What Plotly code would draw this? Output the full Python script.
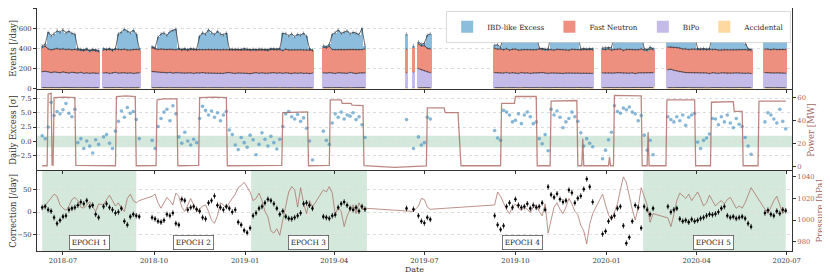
import pandas as pd
import plotly.graph_objects as go
from plotly.subplots import make_subplots

# ---------------- data ----------------
segment_starts = ["2018-06-10", "2018-08-11", "2018-09-29", "2019-03-21", "2019-06-13",
                  "2019-06-20", "2019-06-25", "2019-09-10", "2019-12-28", "2020-03-03", "2020-06-09"]
segment_counts = [20, 13, 55, 15, 1, 1, 5, 34, 18, 29, 8]

accidental = [
    11,10,12,10,9,11,10,12,10,9,11,10,10,12,9,10,11,10,9,11,
    10,11,9,10,12,10,11,9,10,11,10,12,10,
    10,12,9,11,10,10,12,9,11,10, 10,11,9,12,10,10,11,10,9,12, 10,11,10,9,10,12,11,10,9,10,
    11,12,10,9,10,11,10,12,9,10, 11,10,10,12,9,11,10,10,12,9, 11,10,10,11,9,
    10,11,9,12,10,10,11,9,10,12,11,10,9,10,11,
    10,
    11,
    10,12,11,10,9,
    10,11,9,10,12,10,11,10,9,12, 10,11,10,9,10,12,11,10,9,10, 11,10,12,10,9,11,10,10,12,9, 10,11,10,9,
    10,12,9,11,10,10,12,11,9,10,11,10,12,9,10,11,10,12,
    10,11,12,10,9,11,10,12,10,9, 11,10,10,12,9,11,10,10,11,12, 9,10,11,10,12,9,10,11,10,
    10,11,9,12,10,11,10,9,
]
bipo = [
    158,162,155,150,157,152,148,154,150,146,152,149,145,150,143,147,141,146,144,140,
    145,148,142,146,150,144,147,149,143,146,141,145,148,
    160,156,152,149,153,147,150,145,148,151, 146,143,149,145,141,147,144,150,146,142,
    148,145,143,147,141,146,149,144,142,146, 143,147,145,140,144,148,142,146,143,141,
    145,149,143,146,142,147,144,140,145,143, 146,141,144,139,145,
    147,143,150,145,141,148,144,146,142,149,145,140,147,143,146,
    148,
    152,
    190,175,165,158,150,
    150,146,148,144,149,143,147,145,142,148, 144,146,141,147,143,145,149,144,142,146,
    143,147,145,141,146,144,148,142,145,143, 147,144,146,142,
    146,143,148,142,145,149,144,141,147,143,146,140,145,148,142,146,143,147,
    178,182,170,165,158,152,150,147,149,145, 146,143,148,144,141,147,145,142,146,144,
    140,145,143,147,141,146,142,144,140,
    150,146,148,143,147,145,149,144,
]
fast_neutron = [
    241,248,228,225,226,235,232,229,228,237,222,231,230,220,226,231,220,226,223,219,
    232,228,238,225,230,236,229,234,231,227,238,233,230,
    236,230,228,233,226,231,229,235,227,232, 229,234,226,231,237,228,233,225,230,236,
    229,232,235,227,238,230,226,233,236,228, 231,227,233,236,229,225,234,230,232,228,
    235,229,233,231,227,234,230,236,228,232, 229,233,231,235,228,
    255,250,262,231,236,229,234,230,237,228,233,236,230,235,240,
    235,
    250,
    245,238,250,232,236,
    240,235,238,232,236,229,233,238,231,227, 234,230,236,228,233,237,231,229,235,232,
    228,234,230,236,231,227,233,235,229,234, 232,236,230,238,
    236,232,240,229,234,231,238,227,233,236,230,235,229,237,231,226,239,233,
    225,220,228,232,236,230,234,229,233,238, 231,236,229,233,240,227,235,231,228,234,
    237,230,233,228,235,231,236,229,234,
    232,236,229,238,231,234,230,236,
]
ibd_excess = [
    15,20,165,140,153,177,170,190,167,178,165,150,10,8,7,7,8,8,9,8,
    10,4,8,3,6,155,173,198,186,171,191,150,9,
    8,5,120,150,165,140,175,190,205,6, 3,9,2,10,5,4,130,170,155,195,
    170,150,180,160,145,165,6,3,2,7, 4,10,5,1,8,3,6,2,5,9,
    3,6,4,7,170,155,140,160,130,155, 145,165,135,12,0,
    15,12,18,150,170,195,160,175,185,155,170,165,150,210,30,
    150,
    15,
    20,15,25,130,150,
    30,45,15,140,155,125,190,170,150,165, 180,160,175,150,170,8,3,10,5,155,
    140,170,130,160,150,175,145,165,150,6, 10,2,12,5,
    12,20,8,25,150,185,170,200,165,190,175,155,180,160,15,5,20,3,
    187,107,100,128,142,107,131,152,123,138, 8,4,12,2,6,155,170,145,175,160,
    140,165,180,155,150,135,60,10,3,
    153,167,144,182,162,175,151,166,
]
daily_excess_sigma = [
    1.0,0.5,2.5,6.8,4.5,5.2,4.8,5.5,6.6,4.9,4.3,5.6,-0.2,0.5,-1.2,0.1,-0.8,-2.0,0.3,-0.5,
    0.8,1.2,-0.3,-1.2,1.8,3.5,5.3,4.2,5.9,4.9,5.2,3.8,0.5,
    0.2,-1.2,2.6,4.0,5.1,5.6,3.6,6.2,4.8,0.8, -0.3,1.6,0.1,-0.6,0.4,-0.2,4.0,6.1,5.4,4.6,
    5.3,4.2,5.0,3.6,4.6,5.2,2.0,1.2,-0.6,-1.4, 0.7,-0.2,-1.0,1.1,0.3,-2.3,-0.5,1.5,0.4,-0.8,
    0.9,-0.2,-1.3,0.4,2.6,4.8,5.2,4.3,3.9,4.7, 3.5,4.1,2.3,0.1,-3.2,
    1.8,0.2,-0.5,3.2,4.8,4.2,5.1,3.9,4.6,4.4,5.0,3.8,4.3,2.9,0.7,
    3.8,
    -1.2,
    0.8,-0.6,-0.2,4.2,3.9,
    1.9,0.6,0.2,5.4,5.1,4.6,3.4,3.7,4.8,3.1, 4.6,5.1,4.3,3.1,3.4,0.5,-0.4,1.2,-1.6,5.6,
    4.6,5.3,4.2,2.4,3.4,4.0,5.1,4.3,3.5,1.5, -0.8,0.5,-0.3,-0.9,
    -3.0,-1.5,0.3,1.6,6.2,5.2,4.9,5.8,5.5,6.0,5.1,4.8,3.6,4.5,1.1,-1.5,0.2,-2.3,
    4.3,3.8,3.4,4.3,3.6,4.6,2.8,4.2,4.6,4.9, -0.1,-1.2,0.2,0.6,1.3,4.0,3.9,2.9,4.3,3.4,
    4.6,3.2,2.4,4.0,3.0,2.6,0.7,-0.8,-2.2,
    3.4,5.0,4.6,3.9,3.2,5.6,3.5,2.2,
]
correction = [
    10,12,5,2,-12,-25,-18,-10,-8,5,8,10,15,22,18,25,12,15,-5,-12,
    12,18,10,5,-2,0,8,-20,-28,-10,-5,-8,-10,
    -12,-15,-20,-22,-18,-5,-8,-2,-25,-28, 28,25,5,10,12,6,2,-12,-15,20,
    25,35,15,10,5,12,8,0,5,-22, -28,-40,-45,-35,-8,-2,8,12,20,28,
    25,18,8,-5,2,-10,-14,-15,-12,-8, -2,18,20,15,8,
    -10,-12,-14,-8,-6,10,18,22,15,8,5,10,2,12,6,
    8,
    6,
    -8,-20,-24,-12,-16,
    -8,-28,-38,-30,12,20,10,28,15,10, 12,18,8,15,10,12,20,5,55,38,
    32,40,28,22,25,48,42,20,30,35, 50,72,55,22,
    -48,-42,-20,-12,-8,8,12,-30,-68,-55,-20,15,10,-35,12,5,-5,8,
    12,0,5,8,-15,-20,-18,-22,-16,-20, -18,-14,-12,-8,-5,-6,-4,0,8,12,
    -8,-12,-10,-14,-12,-10,-14,-25,-32,
    -2,4,-5,-8,2,-3,5,3,
]
pressure = [
    1012,1013,1017,1020,1024,1022,1014,1011,1009,1013,1019,1021,1018,1012,1011,1014,1017,1012,1008,1015,
    1014,1019,1023,1018,1013,1016,1011,1008,1020,1024,1018,1016,1018,
    1022,1024,1016,1011,1016,1021,1018,1014,1025,1022, 1012,1008,1014,1020,1014,1008,1010,1013,1014,1008,
    1000,997,1004,1016,1014,1011,1016,1020,1024,1030, 1032,1035,1030,1026,1018,1020,1025,1018,1008,1003,
    990,988,992,986,1000,1012,1026,1031,1028,1012, 1030,1016,1006,1018,1012,
    1028,1026,1031,1025,1005,1012,1008,994,1004,1010,1014,1006,1016,1010,1011,
    1009,
    1008,
    1013,1020,1019,1012,1010,
    1014,1026,1022,1016,1010,1006,1012,1015,1011,1009, 1012,1010,1007,1012,1014,1008,1004,1015,988,1000,
    1012,1016,1010,1006,1012,1020,1015,1008,1005,995, 990,978,996,1006,
    1024,1014,1005,1000,1008,1015,1028,1040,1035,1022,1010,1000,1012,1030,1022,1014,998,1006,
    1002,994,1005,1018,1025,1022,1020,1024,1018,1022, 1026,1020,1013,1016,1023,1018,1013,1016,1018,1015,
    1019,1021,1016,1011,1013,1011,1016,1024,1030,
    1010,1006,1012,1018,1022,1014,1006,1010,
]

power_dates = [
    "2018-06-10","2018-06-15","2018-06-16","2018-06-19","2018-06-20","2018-06-21","2018-06-22","2018-07-02","2018-07-13","2018-07-14",
    "2018-08-23","2018-08-24","2018-09-03","2018-09-12","2018-09-13",
    "2018-10-03","2018-10-04","2018-10-10","2018-10-24","2018-10-25",
    "2018-11-15","2018-11-16","2018-11-30","2018-12-13","2018-12-14",
    "2019-02-07","2019-02-08","2019-03-05","2019-03-06",
    "2019-03-27","2019-03-28","2019-04-08","2019-04-09","2019-04-18","2019-04-19","2019-04-30","2019-05-01",
    "2019-06-01","2019-07-03","2019-07-04","2019-07-21","2019-07-22","2019-08-04","2019-08-07",
    "2019-09-16","2019-09-17","2019-09-30","2019-10-01","2019-10-22","2019-10-23",
    "2019-11-05","2019-11-06","2019-12-02","2019-12-03","2019-12-07","2019-12-08","2019-12-09",
    "2020-01-03","2020-01-04","2020-01-05","2020-01-08","2020-01-09","2020-02-05","2020-02-06",
    "2020-02-11","2020-02-12","2020-02-13","2020-03-01","2020-03-02","2020-03-30","2020-03-31",
    "2020-04-15","2020-04-16","2020-05-08","2020-05-09","2020-05-17","2020-05-18",
    "2020-06-02","2020-06-03","2020-06-30",
]
power_mw = [
    0.5,0.5,63,64,1,1,60,60.5,60,0.8,
    0.5,61,61.5,61,0.5,
    0.6,58,59,59,0.5,
    0.8,60,60.5,60,0.5,
    0.8,47,47.5,0.5,
    0.8,58,58,55,55,53.5,53,0.5,
    -1,0.3,51,51,47,47,0.5,
    0.5,55,55,61,61,0.5,
    0.5,57,57.5,0.5,0.5,24,0.5,
    0.5,8,0.5,0.5,62,61.5,0.5,
    0.5,30,0.5,0.5,58,58,0.5,
    0.5,56,56.5,48,48,0.5,
    0.5,57,57,
]

epoch_names = ["EPOCH 1", "EPOCH 2", "EPOCH 3", "EPOCH 4", "EPOCH 5"]
epoch_starts = ["2018-06-10", "2018-09-13", "2019-01-07", "2019-05-04", "2020-02-07"]
epoch_ends = ["2018-09-13", "2019-01-07", "2019-05-04", "2020-02-07", "2020-06-30"]
epoch_shaded = [True, False, True, False, True]
epoch_label_dates = ["2018-07-28", "2018-11-10", "2019-03-06", "2019-10-08", "2020-04-18"]

# ---------------- build ----------------
dates = []
for s, n in zip(segment_starts, segment_counts):
    dates.extend(list(pd.date_range(s, periods=n, freq="3D")))
N = len(dates)
for nm, arr in [("acc", accidental), ("bipo", bipo), ("fn", fast_neutron), ("exc", ibd_excess),
                ("sig", daily_excess_sigma), ("corr", correction), ("pres", pressure)]:
    assert len(arr) == N, (nm, len(arr), N)


def broken(values):
    xs, ys = [], []
    k = 0
    for n in segment_counts:
        xs += dates[k:k + n] + [None]
        ys += list(values[k:k + n]) + [None]
        k += n
    return xs, ys


c1 = list(accidental)
c2 = [a + b for a, b in zip(c1, bipo)]
c3 = [a + b for a, b in zip(c2, fast_neutron)]
c4 = [a + b for a, b in zip(c3, ibd_excess)]

FONT = "DejaVu Serif"
DARK = "#333333"
BROWN = "rgb(160,100,92)"
GREEN = "rgba(120,185,145,0.32)"
COL_EXC = "#8dbddd"
COL_FN = "#ee9080"
COL_BIPO = "#c4bbe8"
COL_ACC = "#fdd8a0"
BARW = 3 * 24 * 3600 * 1000

fig = make_subplots(rows=3, cols=1, shared_xaxes=True, vertical_spacing=0.004,
                    specs=[[{}], [{"secondary_y": True}], [{"secondary_y": True}]])

for vals, col, nm in [(accidental, COL_ACC, "Accidental"), (bipo, COL_BIPO, "BiPo"),
                      (fast_neutron, COL_FN, "Fast Neutron"), (ibd_excess, COL_EXC, "IBD-like Excess")]:
    fig.add_trace(go.Bar(x=dates, y=vals, width=BARW, name=nm, marker=dict(color=col, line=dict(width=0)),
                         showlegend=True), row=1, col=1)

for cum, err in [(c1, 3), (c2, 8), (c3, 12), (c4, 18)]:
    xs, ys = broken(cum)
    fig.add_trace(go.Scatter(x=xs, y=ys, mode="lines", line=dict(color="rgba(35,35,40,0.85)", width=0.8),
                             error_y=dict(type="constant", value=err, color="rgba(60,60,70,0.6)",
                                          thickness=0.7, width=0),
                             showlegend=False, hoverinfo="skip"), row=1, col=1)

# panel 2
fig.add_trace(go.Scatter(x=dates, y=daily_excess_sigma, mode="markers",
                         marker=dict(size=3.6, color="rgba(70,145,195,0.65)", line=dict(width=0)),
                         showlegend=False), row=2, col=1, secondary_y=False)
fig.add_trace(go.Scatter(x=power_dates, y=power_mw, mode="lines",
                         line=dict(color="rgba(165,95,85,0.75)", width=1.3),
                         showlegend=False), row=2, col=1, secondary_y=True)

# panel 3 : pressure on primary (drawn below, right side), correction overlay (left side)
fig.add_trace(go.Scatter(x=dates, y=pressure, mode="lines",
                         line=dict(color="rgba(170,112,102,0.85)", width=0.9),
                         showlegend=False), row=3, col=1, secondary_y=False)
fig.add_trace(go.Scatter(x=dates, y=correction, mode="markers",
                         marker=dict(size=2.6, color="black"),
                         error_y=dict(type="constant", value=6, color="black", thickness=0.8, width=0),
                         showlegend=False), row=3, col=1, secondary_y=True)

shapes = []
for s, e, sh in zip(epoch_starts, epoch_ends, epoch_shaded):
    if sh:
        shapes.append(dict(type="rect", xref="x3", yref="y4 domain", x0=s, x1=e, y0=0, y1=1,
                           fillcolor=GREEN, line=dict(width=0), layer="below"))
shapes.append(dict(type="rect", xref="x2 domain", yref="y2", x0=0, x1=1, y0=-1, y1=1,
                   fillcolor=GREEN, line=dict(width=0), layer="below"))

annotations = []
for nm, d in zip(epoch_names, epoch_label_dates):
    annotations.append(dict(x=d, y=-67, xref="x3", yref="y5", text=nm, showarrow=False,
                            font=dict(family=FONT, size=7.3, color="#222"), bgcolor="white",
                            bordercolor="#555", borderwidth=0.8, borderpad=2))

xcommon = dict(type="date", domain=[0, 1], range=["2018-06-04 18:00", "2020-07-06 08:00"], dtick="M3",
               tick0="2018-07-01", tickformat="%Y-%m", ticks="outside", ticklen=3, tickwidth=0.8,
               tickcolor=DARK, showline=True, linecolor=DARK, linewidth=1, mirror=True, showgrid=False,
               tickfont=dict(family=FONT, size=6.8, color=DARK))
fig.update_xaxes(**xcommon)
fig.update_xaxes(showticklabels=False, row=1, col=1)
fig.update_xaxes(showticklabels=False, row=2, col=1)
fig.update_xaxes(title=dict(text="Date", font=dict(family=FONT, size=8, color=DARK), standoff=0), row=3, col=1)

ycommon = dict(ticks="outside", ticklen=3, tickwidth=0.8, tickcolor=DARK, showline=True, linecolor=DARK,
               linewidth=1, zeroline=False, tickfont=dict(family=FONT, size=6.8, color=DARK))
rcommon = dict(ticks="outside", ticklen=3, tickwidth=0.8, tickcolor=DARK, showline=True, linecolor=DARK,
               linewidth=1, zeroline=False, showgrid=False, tickfont=dict(family=FONT, size=6.8, color=BROWN))
grid = dict(showgrid=True, gridcolor="#dcdcdc", gridwidth=0.6, griddash="dot")

fig.update_layout(
    yaxis=dict(domain=[0.668, 1.0], range=[0, 800], tickvals=[0, 200, 400, 600, 800], mirror=True,
               title=dict(text="Events [/day]", font=dict(family=FONT, size=8.5, color=DARK), standoff=3),
               **ycommon, **grid),
    yaxis2=dict(domain=[0.332, 0.664], range=[-5, 9], tickvals=[-2.5, 0, 2.5, 5, 7.5], tickformat=".1f",
                title=dict(text="Daily Excess [σ]", font=dict(family=FONT, size=8.5, color=DARK), standoff=3),
                **ycommon, **grid),
    yaxis3=dict(range=[-3.5, 67], tickvals=[0, 20, 40, 60], side="right",
                title=dict(text="Power [MW]", font=dict(family=FONT, size=8.5, color=BROWN), standoff=3),
                **rcommon),
    yaxis4=dict(domain=[0.0, 0.330], range=[971.4, 1045.6], tickvals=[980, 1000, 1020, 1040], side="right",
                title=dict(text="Pressure [hPa]", font=dict(family=FONT, size=8.5, color=BROWN), standoff=3),
                **rcommon),
    yaxis5=dict(range=[-85, 90], tickvals=[-50, 0, 50], side="left", overlaying="y4",
                title=dict(text="Correction [/day]", font=dict(family=FONT, size=8.5, color=DARK), standoff=3),
                **ycommon, **grid),
)

# the page body adds an 8 px offset; the figure is sized to fit the 830x277 window
fig.update_layout(
    width=822, height=269, margin=dict(l=29, r=38, t=0, b=26, autoexpand=False),
    barmode="stack", bargap=0, plot_bgcolor="white", paper_bgcolor="white",
    font=dict(family=FONT, size=6.8, color=DARK),
    shapes=shapes, annotations=annotations, hovermode=False,
    legend=dict(orientation="h", x=0.998, xanchor="right", y=0.985, yanchor="top",
                traceorder="reversed", bgcolor="white", bordercolor="#cccccc", borderwidth=0.7,
                font=dict(family=FONT, size=7.2, color="#222"), itemwidth=30,
                tracegroupgap=0),
)

fig.write_html("out.html", config={"displayModeBar": False})
